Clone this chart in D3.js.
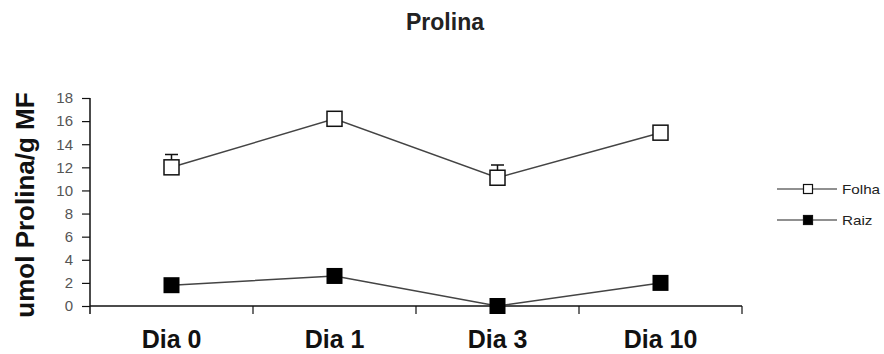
<!DOCTYPE html>
<html>
<head>
<meta charset="utf-8">
<script src="https://cdn.jsdelivr.net/npm/d3@7"></script>
<style>
  body { margin: 0; background: #fff; }
  svg { font-family: "Liberation Sans", Arial, sans-serif; }
</style>
</head>
<body>
<div id="chart"></div>
<script>
const days = ['Dia 0', 'Dia 1', 'Dia 3', 'Dia 10'];
const folha = [12.0, 16.2, 11.1, 15.0];
const folhaErr = [1.1, 0, 1.1, 0];
const raiz = [1.8, 2.6, 0, 2.0];
const yTicks = [0, 2, 4, 6, 8, 10, 12, 14, 16, 18];

const width = 884, height = 354;
const plotLeft = 90, plotRight = 742, plotTop = 98, plotBottom = 306;

const svg = d3.select('#chart')
  .append('svg')
    .attr('width', width)
    .attr('height', height);

const x = d3.scaleBand()
  .domain(days)
  .range([plotLeft, plotRight]);

const y = d3.scaleLinear()
  .domain([0, 18])
  .range([plotBottom, plotTop]);

// title
svg.append('text')
  .attr('x', 445)
  .attr('y', 30)
  .attr('text-anchor', 'middle')
  .style('font-size', '23px')
  .style('font-weight', 'bold')
  .style('fill', '#222')
  .text('Prolina');

// y axis
const yAxis = svg.append('g')
  .attr('transform', 'translate(' + plotLeft + ',0)')
  .call(d3.axisLeft(y).tickValues(yTicks).tickSize(8).tickPadding(9));
yAxis.select('.domain').attr('d', 'M0,' + plotTop + 'V' + (plotBottom + 8)).attr('stroke', '#111').attr('stroke-width', 1.5);
yAxis.selectAll('.tick line').attr('stroke', '#111').attr('stroke-width', 1.2);
yAxis.selectAll('.tick text')
  .style('font-size', '15px')
  .style('fill', '#555')
  .style('font-family', '"Liberation Sans", Arial, sans-serif');

// x axis
const xAxis = svg.append('g')
  .attr('transform', 'translate(0,' + plotBottom + ')')
  .call(d3.axisBottom(x).tickSize(0).tickPadding(24));
xAxis.select('.domain').attr('d', 'M' + plotLeft + ',0H' + plotRight).attr('stroke', '#111').attr('stroke-width', 1.5);
xAxis.selectAll('.tick text')
  .style('font-size', '25px')
  .style('font-weight', 'bold')
  .style('fill', '#111')
  .style('font-family', '"Liberation Sans", Arial, sans-serif');
// boundary ticks between categories
xAxis.selectAll('line.sep')
  .data(days)
  .enter()
  .append('line')
  .attr('class', 'sep')
  .attr('x1', (d, i) => plotLeft + x.step() * (i + 1))
  .attr('x2', (d, i) => plotLeft + x.step() * (i + 1))
  .attr('y1', 0)
  .attr('y2', 8)
  .attr('stroke', '#111')
  .attr('stroke-width', 1.2);

// y axis title
svg.append('text')
  .attr('transform', 'translate(34,' + 205 + ') rotate(-90)')
  .attr('text-anchor', 'middle')
  .style('font-size', '26px')
  .style('font-weight', 'bold')
  .style('fill', '#111')
  .text('umol Prolina/g MF');

const cx = d => x(d) + x.bandwidth() / 2;

const line = d3.line()
  .x(d => cx(d.day))
  .y(d => y(d.v));

const folhaData = days.map((d, i) => ({ day: d, v: folha[i], e: folhaErr[i] }));
const raizData = days.map((d, i) => ({ day: d, v: raiz[i] }));

// error bars (upper only)
const eb = svg.append('g');
eb.selectAll('path')
  .data(folhaData.filter(d => d.e > 0))
  .enter()
  .append('path')
  .attr('d', d => 'M' + cx(d.day) + ',' + y(d.v) + 'V' + y(d.v + d.e)
    + 'M' + (cx(d.day) - 6.5) + ',' + y(d.v + d.e) + 'H' + (cx(d.day) + 6.5))
  .attr('fill', 'none')
  .attr('stroke', '#111')
  .attr('stroke-width', 1.5);

[folhaData, raizData].forEach(data => {
  svg.append('path')
    .datum(data)
    .attr('fill', 'none')
    .attr('stroke', '#444')
    .attr('stroke-width', 1.5)
    .attr('d', line);
});

const ms = 15;
svg.append('g').selectAll('rect')
  .data(folhaData)
  .enter()
  .append('rect')
  .attr('x', d => cx(d.day) - ms / 2)
  .attr('y', d => y(d.v) - ms / 2)
  .attr('width', ms)
  .attr('height', ms)
  .attr('fill', '#fff')
  .attr('stroke', '#111')
  .attr('stroke-width', 1.5);

svg.append('g').selectAll('rect')
  .data(raizData)
  .enter()
  .append('rect')
  .attr('x', d => cx(d.day) - 8)
  .attr('y', d => y(d.v) - 8)
  .attr('width', 16)
  .attr('height', 16)
  .attr('fill', '#000');

// legend
const legend = svg.append('g');
const legendItems = [
  { name: 'Folha', fill: '#fff', ly: 189 },
  { name: 'Raiz', fill: '#000', ly: 220 }
];
legendItems.forEach(it => {
  legend.append('line')
    .attr('x1', 777).attr('x2', 837)
    .attr('y1', it.ly).attr('y2', it.ly)
    .attr('stroke', '#222')
    .attr('stroke-width', 1.2);
  legend.append('rect')
    .attr('x', 808 - 4.5).attr('y', it.ly - 4.5)
    .attr('width', 9).attr('height', 9)
    .attr('fill', it.fill)
    .attr('stroke', '#111')
    .attr('stroke-width', 1.2);
  legend.append('text')
    .attr('transform', 'translate(842,' + (it.ly + 4.5) + ') scale(1.27,1)')
    .style('font-size', '12px')
    .style('fill', '#222')
    .text(it.name);
});
</script>
</body>
</html>
